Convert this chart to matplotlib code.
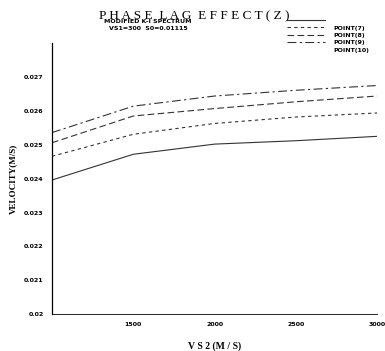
import matplotlib
matplotlib.use("Agg")
import matplotlib.pyplot as plt

vs2 = [1000, 1500, 2000, 2500, 3000]
point7 = [0.02396, 0.02472, 0.02502, 0.02512, 0.02525]
point8 = [0.02466, 0.02531, 0.02563, 0.02582, 0.02594]
point9 = [0.02506, 0.02585, 0.02607, 0.02627, 0.02644]
point10 = [0.02536, 0.02614, 0.02644, 0.02661, 0.02675]
labels = ["POINT(7)", "POINT(8)", "POINT(9)", "POINT(10)"]
yticks = [0.02, 0.021, 0.022, 0.023, 0.024, 0.025, 0.026, 0.027]
ytick_labels = ["0.02", "0.021", "0.022", "0.023", "0.024", "0.025", "0.026", "0.027"]
xticks = [1500, 2000, 2500, 3000]

styles = ["-", (0, (3, 3)), (0, (6, 3)), (0, (8, 3, 2, 3))]

fig = plt.figure(figsize=(3.85, 3.51), dpi=100)
ax = fig.add_axes([0.135, 0.105, 0.845, 0.772])
for series, ls in zip([point7, point8, point9, point10], styles):
    ax.plot(vs2, series, color="#333333", linestyle=ls, linewidth=0.8)

ax.set_xlim(1000, 3000)
ax.set_ylim(0.02, 0.028)
ax.set_xticks(xticks)
ax.set_xticklabels([str(x) for x in xticks], fontsize=4.5, fontweight="bold")
ax.set_yticks(yticks)
ax.set_yticklabels(ytick_labels, fontsize=4.5, fontweight="bold")
ax.tick_params(length=0, pad=6)
ax.spines["top"].set_visible(False)
ax.spines["right"].set_visible(False)
ax.spines["left"].set_linewidth(0.9)
ax.spines["bottom"].set_linewidth(0.6)
ax.set_xlabel("V S 2 (M / S)", fontsize=7, fontweight="bold", family="Liberation Serif", labelpad=10)
ax.set_ylabel("VELOCITY(M/S)", fontsize=6.5, fontweight="bold", family="Liberation Serif", labelpad=5)

fig.text(0.505, 0.955, "P H A S E  L A G  E F F E C T ( Z )", ha="center", va="center",
         fontsize=9.5, family="Liberation Serif")
fig.text(0.385, 0.94, "MODIFIED K-I SPECTRUM", ha="center", va="center",
         fontsize=4.5, fontweight="bold")
fig.text(0.385, 0.918, "VS1=300  S0=0.01115", ha="center", va="center",
         fontsize=4.5, fontweight="bold")

# legend drawn in figure coordinates, lines and labels offset as in the original
leg_y = [0.943, 0.922, 0.901, 0.880]
lab_y = [0.920, 0.899, 0.878, 0.857]
for ly, ty, ls, lab in zip(leg_y, lab_y, styles, labels):
    fig.add_artist(plt.Line2D([0.745, 0.845], [ly, ly], color="#333333",
                              linestyle=ls, linewidth=0.8))
    fig.text(0.865, ty, lab, ha="left", va="center", fontsize=4.5, fontweight="bold")

fig.savefig("out.png", dpi=100)
